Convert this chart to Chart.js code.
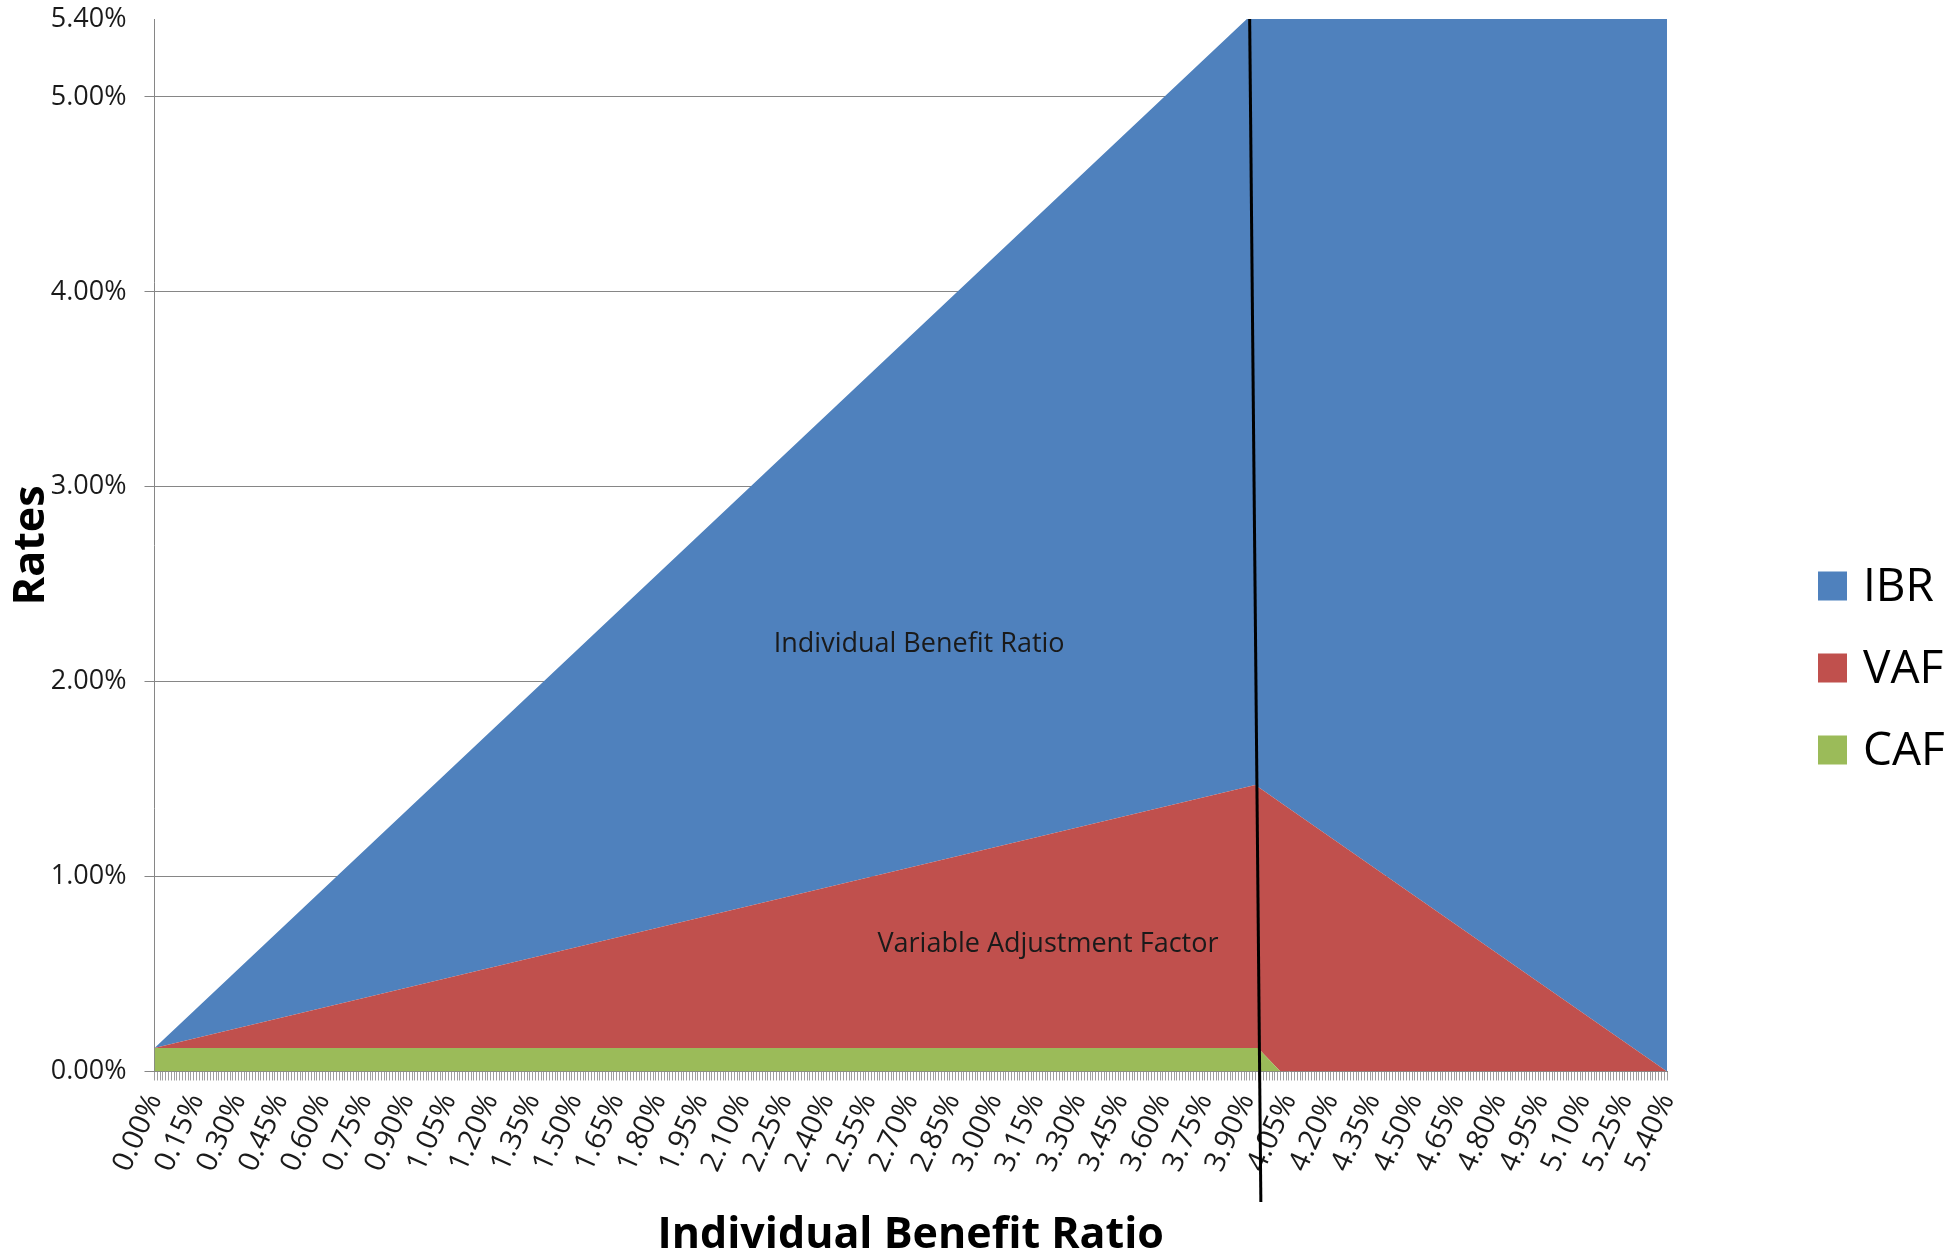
<!DOCTYPE html>
<html>
<head>
<meta charset="utf-8">
<title>Rates by Individual Benefit Ratio</title>
<script src="https://cdn.jsdelivr.net/npm/chart.js@4.4.0/dist/chart.umd.min.js"></script>
<style>
  html, body { margin: 0; padding: 0; background: #fff; }
  #chart { display: block; }
</style>
</head>
<body>
<canvas id="chart" width="1954" height="1259"></canvas>
<script>
// breakpoints on the Individual Benefit Ratio axis (%)
const ratioPoints = [0, 3.90, 3.93, 3.94, 3.96, 4.02, 5.40];

// stacked components (%), bottom to top
const cafValues = [0.12, 0.12, 0.12, 0.12, 0.09, 0, 0];
const vafValues = [0, 1.34, 1.35, 1.34, 1.35, 1.38, 0];
const ibrValues = [0, 3.94, 3.93, 3.94, 3.96, 4.02, 5.40];

const seriesNames = ['CAF', 'VAF', 'IBR'];

// axis ticks
const yTickValues = [0, 1, 2, 3, 4, 5, 5.40];
const xLabelValues = [0.00, 0.15, 0.30, 0.45, 0.60, 0.75, 0.90, 1.05, 1.20, 1.35, 1.50, 1.65,
    1.80, 1.95, 2.10, 2.25, 2.40, 2.55, 2.70, 2.85, 3.00, 3.15, 3.30, 3.45, 3.60, 3.75,
    3.90, 4.05, 4.20, 4.35, 4.50, 4.65, 4.80, 4.95, 5.10, 5.25, 5.40];

// text inside the plot, at [x, y] in axis units
const areaNotes = [
    { text: 'Individual Benefit Ratio', at: [2.73, 2.19] },
    { text: 'Variable Adjustment Factor', at: [3.19, 0.65] }
];
// hand drawn divider: [x, y] start and end in axis units
const dividerLine = [[3.91, 5.40], [3.95, -0.67]];

const colors = { IBR: '#4f81bd', VAF: '#c0504d', CAF: '#9bbb59' };
const gridGray = '#868686';

Chart.defaults.font.family = "'Open Sans', sans-serif";
Chart.defaults.color = '#1a1a1a';

// one small tick per 0.01%
const minorTicks = [];
for (let i = 0; i <= 540; i++) minorTicks.push({ value: i / 100 });
const labelled = new Set(xLabelValues.map(v => Math.round(v * 100)));

function points(values) {
    return ratioPoints.map((x, i) => ({ x: x, y: values[i] }));
}

const notesPlugin = {
    id: 'notes',
    afterDatasetsDraw(chart) {
        const ctx = chart.ctx;
        const xs = chart.scales.x, ys = chart.scales.y;
        ctx.save();
        ctx.font = "27px 'Open Sans', sans-serif";
        ctx.fillStyle = '#1a1a1a';
        ctx.textAlign = 'center';
        ctx.textBaseline = 'middle';
        areaNotes.forEach(n => {
            ctx.fillText(n.text, xs.getPixelForValue(n.at[0]), ys.getPixelForValue(n.at[1]));
        });
        ctx.beginPath();
        ctx.moveTo(xs.getPixelForValue(dividerLine[0][0]), ys.getPixelForValue(dividerLine[0][1]));
        ctx.lineTo(xs.getPixelForValue(dividerLine[1][0]), ys.getPixelForValue(dividerLine[1][1]));
        ctx.lineWidth = 3;
        ctx.strokeStyle = '#000';
        ctx.stroke();
        ctx.restore();
    }
};

// legend to the right of the plot, top series first
const sideLegend = {
    id: 'sideLegend',
    afterDraw(chart) {
        const ctx = chart.ctx;
        const left = chart.chartArea.right + 151;
        const size = 29, gap = 82, firstY = 586;
        ctx.save();
        ctx.font = "46px 'Open Sans', sans-serif";
        ctx.textBaseline = 'middle';
        ctx.textAlign = 'left';
        seriesNames.slice().reverse().forEach((name, i) => {
            const cy = firstY + i * gap;
            ctx.fillStyle = colors[name];
            ctx.fillRect(left, cy - size / 2, size, size);
            ctx.fillStyle = '#000';
            ctx.fillText(name, left + size + 16, cy + 2);
        });
        ctx.restore();
    }
};

new Chart(document.getElementById('chart'), {
    type: 'line',
    data: {
        datasets: [
            { label: 'CAF', data: points(cafValues), backgroundColor: colors.CAF, fill: 'origin' },
            { label: 'VAF', data: points(vafValues), backgroundColor: colors.VAF, fill: '-1' },
            { label: 'IBR', data: points(ibrValues), backgroundColor: colors.IBR, fill: '-1' }
        ]
    },
    options: {
        responsive: false,
        animation: false,
        devicePixelRatio: 1,
        layout: { padding: { left: 0, right: 287, top: 19, bottom: 0 } },
        elements: {
            line: { borderWidth: 0, tension: 0 },
            point: { radius: 0, hoverRadius: 0 }
        },
        plugins: {
            legend: { display: false },
            tooltip: { enabled: false }
        },
        scales: {
            x: {
                type: 'linear',
                min: 0,
                max: 5.4,
                afterBuildTicks: s => { s.ticks = minorTicks.map(t => ({ value: t.value })); },
                afterFit: s => { s.height = 187.5; },
                grid: { drawOnChartArea: false, tickLength: 9, color: '#a0a0a0' },
                border: { color: gridGray },
                ticks: {
                    autoSkip: false,
                    minRotation: 66,
                    maxRotation: 66,
                    padding: 8,
                    font: { size: 29 },
                    callback: v => labelled.has(Math.round(v * 100)) ? v.toFixed(2) + '%' : ''
                },
                title: {
                    display: true,
                    text: 'Individual Benefit Ratio',
                    color: '#000',
                    font: { size: 43, weight: 'bold', lineHeight: 1 },
                    padding: { top: 0, bottom: 2 }
                }
            },
            y: {
                stacked: true,
                min: 0,
                max: 5.4,
                afterBuildTicks: s => { s.ticks = yTickValues.map(v => ({ value: v })); },
                // the label gap should not push the plot top down
                afterFit: s => { s.width = 154.5; s.paddingTop = 16; s.paddingBottom = 16; },
                grid: {
                    tickLength: 10,
                    color: c => (c.tick.value === 0 || c.tick.value === 5.4) ? 'rgba(0,0,0,0)' : gridGray,
                    tickColor: c => c.tick.value === 5.4 ? 'rgba(0,0,0,0)' : gridGray
                },
                border: { color: gridGray },
                ticks: {
                    padding: 18,
                    font: { size: 27 },
                    callback: v => v.toFixed(2) + '%'
                },
                title: {
                    display: true,
                    text: 'Rates',
                    color: '#000',
                    font: { size: 43, weight: 'bold', lineHeight: 1 },
                    padding: { top: 10, bottom: 0 }
                }
            }
        }
    },
    plugins: [notesPlugin, sideLegend]
});
</script>
</body>
</html>
